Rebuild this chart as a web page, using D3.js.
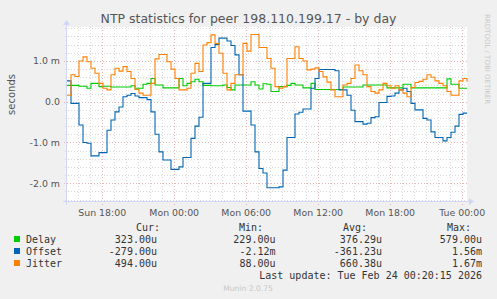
<!DOCTYPE html>
<html>
<head>
<meta charset="utf-8">
<script src="https://cdn.jsdelivr.net/npm/d3@7"></script>
<style>
  body { margin: 0; background: #f0f0f0; }
  svg { display: block; }
</style>
</head>
<body>
<svg width="497" height="299"></svg>
<script>

    // samples every 20 minutes starting Sun 22 Feb 15:06:30, values in milliseconds

    var sampleStart = new Date(2026, 1, 22, 15, 6, 30);
    var sampleStepMinutes = 20;

    var delayMs = [
        0.40, 0.40, 0.40, 0.38, 0.38, 0.33, 0.45, 0.45, 0.37, 0.38,
        0.38, 0.36, 0.36, 0.36, 0.36, 0.36, 0.39, 0.33, 0.33, 0.43,
        0.45, 0.57, 0.41, 0.41, 0.34, 0.34, 0.34, 0.34, 0.57, 0.39,
        0.45, 0.49, 0.55, 0.49, 0.40, 0.40, 0.39, 0.39, 0.39, 0.41,
        0.35, 0.29, 0.41, 0.41, 0.41, 0.41, 0.49, 0.41, 0.31, 0.44,
        0.43, 0.25, 0.25, 0.37, 0.37, 0.40, 0.45, 0.41, 0.41, 0.34,
        0.34, 0.45, 0.30, 0.30, 0.30, 0.30, 0.30, 0.30, 0.30, 0.36,
        0.36, 0.36, 0.36, 0.36, 0.41, 0.41, 0.41, 0.41, 0.41, 0.41,
        0.34, 0.34, 0.34, 0.34, 0.43, 0.43, 0.34, 0.34, 0.34, 0.34,
        0.34, 0.34, 0.34, 0.34, 0.34, 0.56, 0.43, 0.43, 0.33, 0.33,
        0.33
    ];

    var offsetMs = [
        0.51, -0.04, -0.04, -0.57, -1.00, -1.02, -1.33, -1.33, -1.25, -1.25,
        -0.70, -0.45, -0.25, -0.13, 0.12, 0.16, 0.20, 0.14, 0.10, 0.10,
        0.05, -0.25, -0.80, -1.23, -1.43, -1.43, -1.66, -1.66, -1.60, -1.37,
        -1.37, -0.90, -0.60, -0.38, 0.45, 0.45, 1.33, 1.40, 1.56, 1.56,
        1.49, 1.38, 1.15, 0.66, -0.23, -0.23, -0.57, -1.23, -1.64, -1.75,
        -2.11, -2.11, -2.11, -2.09, -1.68, -0.88, -0.88, -0.30, -0.26, -0.18,
        -0.18, 0.33, 0.57, 0.79, 0.79, 0.79, 0.79, 0.76, 0.29, 0.29,
        0.16, -0.21, -0.49, -0.49, -0.55, -0.53, -0.39, -0.37, -0.02, -0.02,
        0.13, 0.14, 0.21, 0.29, 0.33, 0.25, -0.04, -0.20, -0.20, -0.41,
        -0.45, -0.74, -0.88, -0.88, -0.96, -0.88, -0.75, -0.60, -0.31, -0.28,
        -0.28
    ];

    var jitterMs = [
        0.16, 0.66, 0.62, 1.00, 1.10, 0.98, 0.82, 0.70, 0.45, 0.33,
        0.29, 0.66, 0.82, 0.75, 0.86, 0.74, 0.57, 0.30, 0.21, 0.16,
        0.16, 0.45, 1.05, 1.16, 1.16, 0.98, 0.80, 0.57, 0.29, 0.29,
        0.33, 0.70, 0.94, 0.74, 1.39, 1.45, 1.64, 1.43, 1.19, 0.70,
        0.29, 0.45, 0.66, 0.66, 1.43, 1.24, 1.65, 1.65, 1.33, 1.33,
        1.06, 0.82, 0.37, 0.33, 0.37, 1.06, 1.06, 1.35, 1.06, 1.00,
        0.78, 0.80, 0.83, 0.74, 0.61, 0.48, 0.29, 0.12, 0.12, 0.41,
        0.45, 0.57, 0.90, 0.76, 0.66, 0.37, 0.25, 0.21, 0.29, 0.45,
        0.39, 0.33, 0.39, 0.29, 0.21, 0.12, 0.35, 0.47, 0.50, 0.55,
        0.66, 0.60, 0.51, 0.45, 0.39, 0.25, 0.16, 0.16, 0.51, 0.57,
        0.49
    ];

    var seriesNames = ['Delay', 'Offset', 'Jitter'];
    var seriesColors = ['#00cc00', '#0066b3', '#ff8000'];
    var seriesData = [delayMs, offsetMs, jitterMs];

    var legendCur = ['323.00u', '-279.00u', '494.00u'];
    var legendMin = ['229.00u', '-2.12m', '88.00u'];
    var legendAvg = ['376.29u', '-361.23u', '660.38u'];
    var legendMax = ['579.00u', '1.56m', '1.67m'];

    var yTicks = [-2, -1, 0, 1];
    var yTickLabels = ['-2.0 m', '-1.0 m', '0.0', '1.0 m'];
    var xTicks = [
        new Date(2026, 1, 22, 18), new Date(2026, 1, 23, 0), new Date(2026, 1, 23, 6),
        new Date(2026, 1, 23, 12), new Date(2026, 1, 23, 18), new Date(2026, 1, 24, 0)
    ];

    var svg = d3.select('svg');
    var pLeft = 67, pRight = 467, pTop = 27, pBottom = 202;

    svg.append('rect').attr('width', 497).attr('height', 299).attr('fill', '#f0f0f0');
    svg.append('rect')
        .attr('x', pLeft).attr('y', pTop)
        .attr('width', pRight - pLeft).attr('height', pBottom - pTop)
        .attr('fill', '#ffffff');

    var x = d3.scaleTime()
        .domain([sampleStart, new Date(2026, 1, 24, 0, 26, 30)])
        .range([pLeft, pRight]);
    var y = d3.scaleLinear()
        .domain([-2.461, 1.833])
        .range([pBottom, pTop]);

    function crisp(v) { return Math.round(v) + 0.5; }

    // grid lines, minor first then major in red
    var grid = svg.append('g');
    var hours = d3.timeHour.range(x.domain()[0], x.domain()[1]);
    var minorY = d3.range(-12, 10).map(function (k) { return k * 0.2; });
    var minorColor = '#d8d8d8', majorColor = '#e8b4b4';

    grid.selectAll('.vmin')
        .data(hours.filter(function (d) { return d.getHours() % 6 != 0; }))
        .enter().append('line')
        .attr('x1', function (d) { return crisp(x(d)); })
        .attr('x2', function (d) { return crisp(x(d)); })
        .attr('y1', pTop).attr('y2', pBottom + 2)
        .attr('stroke', minorColor).attr('stroke-dasharray', '1,2');

    grid.selectAll('.hmin')
        .data(minorY.filter(function (v) { return Math.abs(v - Math.round(v)) > 0.01; }))
        .enter().append('line')
        .attr('x1', pLeft - 2).attr('x2', pRight)
        .attr('y1', function (d) { return crisp(y(d)); })
        .attr('y2', function (d) { return crisp(y(d)); })
        .attr('stroke', minorColor).attr('stroke-dasharray', '1,2');

    grid.selectAll('.vmaj')
        .data(xTicks)
        .enter().append('line')
        .attr('x1', function (d) { return crisp(x(d)); })
        .attr('x2', function (d) { return crisp(x(d)); })
        .attr('y1', pTop).attr('y2', pBottom + 3)
        .attr('stroke', majorColor).attr('stroke-dasharray', '1,2');

    grid.selectAll('.hmaj')
        .data(yTicks)
        .enter().append('line')
        .attr('x1', pLeft - 3).attr('x2', pRight)
        .attr('y1', function (d) { return crisp(y(d)); })
        .attr('y2', function (d) { return crisp(y(d)); })
        .attr('stroke', majorColor).attr('stroke-dasharray', '1,2');

    // the data lines

    var line = d3.line()
        .curve(d3.curveStepAfter)
        .x(function (d, i) { return x(d3.timeMinute.offset(sampleStart, i * sampleStepMinutes)); })
        .y(function (d) { return y(d); });

    svg.append('g')
        .selectAll('path')
        .data(seriesData)
        .enter().append('path')
        .attr('fill', 'none')
        .attr('stroke', function (d, i) { return seriesColors[i]; })
        .attr('stroke-width', 1.1)
        .attr('d', line);

    // axes lines and arrows

    var axisColor = '#cfd6f8';
    svg.append('line')
        .attr('x1', pLeft - 4).attr('x2', pRight + 3)
        .attr('y1', pBottom - 0.5).attr('y2', pBottom - 0.5)
        .attr('stroke', axisColor);
    svg.append('line')
        .attr('x1', pLeft - 0.5).attr('x2', pLeft - 0.5)
        .attr('y1', pBottom + 3).attr('y2', pTop - 3)
        .attr('stroke', axisColor);
    svg.append('path')
        .attr('d', 'M' + (pRight + 2) + ',' + (pBottom - 4) + 'L' + (pRight + 7) + ',' + (pBottom - 0.5) + 'L' + (pRight + 2) + ',' + (pBottom + 3) + 'Z')
        .attr('fill', axisColor);
    svg.append('path')
        .attr('d', 'M' + (pLeft - 4) + ',' + (pTop - 2) + 'L' + (pLeft - 0.5) + ',' + (pTop - 7) + 'L' + (pLeft + 3) + ',' + (pTop - 2) + 'Z')
        .attr('fill', axisColor);

    // tick labels through d3 axes

    var xAxis = svg.append('g')
        .attr('transform', 'translate(0,' + pBottom + ')')
        .call(d3.axisBottom(x).tickValues(xTicks).tickFormat(d3.timeFormat('%a %H:%M')).tickSize(0));
    xAxis.select('.domain').remove();
    xAxis.selectAll('text')
        .attr('y', 14).attr('dy', null)
        .attr('fill', '#555')
        .style('font-family', 'DejaVu Sans')
        .style('font-size', '9.4px');

    var yAxis = svg.append('g')
        .attr('transform', 'translate(' + pLeft + ',0)')
        .call(d3.axisLeft(y).tickValues(yTicks).tickFormat(function (d, i) { return yTickLabels[i]; }).tickSize(0).tickPadding(7));
    yAxis.select('.domain').remove();
    yAxis.selectAll('text')
        .attr('fill', '#555')
        .style('font-family', 'DejaVu Sans')
        .style('font-size', '9.4px');

    // title, side labels

    svg.append('text')
        .attr('x', 248.5).attr('y', 23)
        .attr('text-anchor', 'middle')
        .attr('fill', '#555')
        .style('font-family', 'DejaVu Sans')
        .style('font-size', '12.5px')
        .text('NTP statistics for peer 198.110.199.17 - by day');

    svg.append('text')
        .attr('transform', 'translate(11.5,94.5) rotate(-90)')
        .attr('text-anchor', 'middle')
        .attr('dy', '0.35em')
        .attr('fill', '#555')
        .style('font-family', 'DejaVu Sans')
        .style('font-size', '10px')
        .text('seconds');

    svg.append('text')
        .attr('transform', 'translate(485,14) rotate(90)')
        .attr('fill', '#c8c8c8')
        .style('font-family', 'DejaVu Sans')
        .style('font-size', '7px')
        .text('RRDTOOL / TOBI OETIKER');

    // legend

    var legend = svg.append('g')
        .style('font-family', 'DejaVu Sans Mono')
        .style('font-size', '10px')
        .attr('fill', '#333');

    var headX = [136, 239, 343, 447];
    var valEnd = [157, 275.5, 382, 482];
    ['Cur:', 'Min:', 'Avg:', 'Max:'].forEach(function (h, k) {
        legend.append('text').attr('x', headX[k]).attr('y', 231).text(h);
    });

    var rows = legend.selectAll('.row')
        .data(seriesNames)
        .enter().append('g')
        .attr('transform', function (d, i) { return 'translate(0,' + (243 + i * 12) + ')'; });

    rows.append('rect')
        .attr('x', 14).attr('y', -7)
        .attr('width', 6).attr('height', 6)
        .attr('fill', function (d, i) { return seriesColors[i]; });
    rows.append('text').attr('x', 26).text(function (d) { return d; });

    [legendCur, legendMin, legendAvg, legendMax].forEach(function (col, k) {
        rows.append('text')
            .attr('x', valEnd[k])
            .attr('text-anchor', 'end')
            .text(function (d, i) { return col[i]; });
    });

    legend.append('text')
        .attr('x', 482).attr('y', 279)
        .attr('text-anchor', 'end')
        .text('Last update: Tue Feb 24 00:20:15 2026');

    svg.append('text')
        .attr('x', 248).attr('y', 291)
        .attr('text-anchor', 'middle')
        .attr('fill', '#c8c8c8')
        .style('font-family', 'DejaVu Sans')
        .style('font-size', '7.6px')
        .text('Munin 2.0.75');

</script>
</body>
</html>
